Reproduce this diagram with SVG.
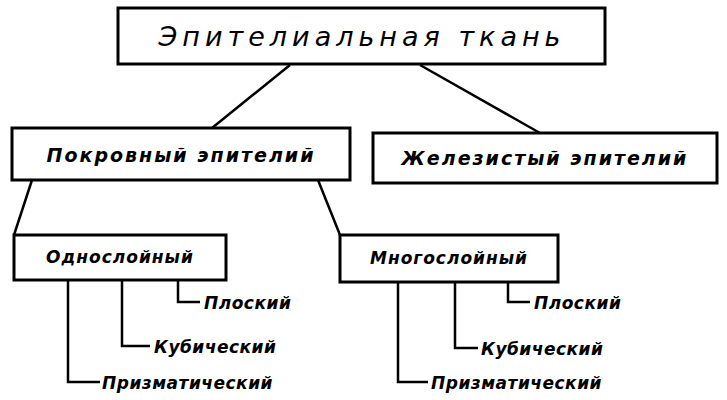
<svg xmlns="http://www.w3.org/2000/svg" width="727" height="400" viewBox="0 0 727 400">
<style>
.b{fill:#fff;stroke:#000;stroke-width:3}
.l{stroke:#000;stroke-width:2.5;fill:none}
text{font-family:"DejaVu Sans","Liberation Sans",sans-serif;font-style:italic;font-weight:bold;fill:#000;text-anchor:middle}
.t1{font-size:27px;letter-spacing:5px;font-weight:normal}
.t2{font-size:19px;letter-spacing:2px}
.t3{font-size:17px;text-anchor:start;letter-spacing:0.5px}
</style>
<rect width="727" height="400" fill="#fff"/>
<g id="connectors">
<path class="l" d="M290 65 L212 128 M420 65 L540 133 M32 180 L14 235 M318 180 L340 235"/>
<path class="l" d="M178 280 V302 H200 M122 280 V346 H150 M68 280 V382 H100"/>
<path class="l" d="M508 282 V302 H530 M455 282 V348 H478 M398 282 V382 H428"/>
</g>
<g id="root"><rect class="b" x="118" y="8" width="487" height="56"/><text class="t1" x="362" y="46">Эпителиальная ткань</text></g>
<g id="pokrov"><rect class="b" x="12" y="128" width="338" height="52"/><text class="t2" x="181" y="162">Покровный эпителий</text></g>
<g id="zhelez"><rect class="b" x="373" y="133" width="344" height="50"/><text class="t2" x="545" y="165">Железистый эпителий</text></g>
<g id="odno"><rect class="b" x="14" y="235" width="212" height="45"/><text class="t2" x="120" y="263" style="font-size:17px;letter-spacing:1px">Однослойный</text></g>
<g id="mnogo"><rect class="b" x="340" y="235" width="218" height="47"/><text class="t2" x="449" y="264" style="font-size:17px;letter-spacing:1px">Многослойный</text></g>
<g id="l1"><text class="t3" x="204" y="309">Плоский</text></g>
<g id="l2"><text class="t3" x="154" y="353">Кубический</text></g>
<g id="l3"><text class="t3" x="102" y="389">Призматический</text></g>
<g id="r1"><text class="t3" x="534" y="309">Плоский</text></g>
<g id="r2"><text class="t3" x="481" y="355">Кубический</text></g>
<g id="r3"><text class="t3" x="431" y="389">Призматический</text></g>
</svg>
